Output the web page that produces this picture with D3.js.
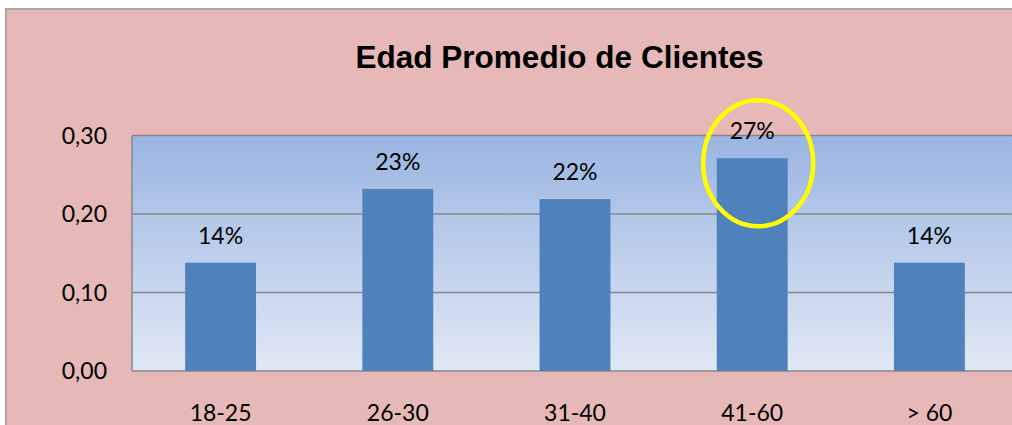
<!DOCTYPE html>
<html><head><meta charset="utf-8">
<script src="https://cdn.jsdelivr.net/npm/d3@7"></script>
<style>html,body{margin:0;padding:0;background:#fff;overflow:hidden}svg{display:block}</style>
</head><body>
<script>
const categories = ["18-25", "26-30", "31-40", "41-60", "> 60"];
const values = [0.138, 0.232, 0.219, 0.271, 0.138];
const valueLabels = ["14%", "23%", "22%", "27%", "14%"];
const yTicks = [0, 0.1, 0.2, 0.3];
const title = "Edad Promedio de Clientes";
const highlighted = "41-60";

const W = 1012, H = 425;
const svg = d3.select("body").append("svg").attr("width", W).attr("height", H);
const defs = svg.append("defs");
const grad = defs.append("linearGradient").attr("id","pg").attr("x1",0).attr("y1",0).attr("x2",0).attr("y2",1);
grad.append("stop").attr("offset","0%").attr("stop-color","#9AB5E2");
grad.append("stop").attr("offset","100%").attr("stop-color","#E1E8F5");

// chart background
svg.append("rect").attr("x",6).attr("y",9).attr("width",W-6).attr("height",H-9).attr("fill","#E6B8B7");
svg.append("path").attr("d",`M6,${H}V9H${W}`).attr("fill","none").attr("stroke","#B3A3A3").attr("stroke-width",2);

const x = d3.scaleBand().domain(categories).range([132, 1018]).paddingInner(0.6).paddingOuter(0.3);
const y = d3.scaleLinear().domain([0, 0.3]).range([371, 135.5]);

// plot area
svg.append("rect").attr("x",132).attr("y",y(0.3)).attr("width",W-132).attr("height",y(0)-y(0.3))
  .attr("fill","url(#pg)");

// gridlines
svg.selectAll("line.grid").data(yTicks).enter().append("line").attr("class","grid")
  .attr("x1",132).attr("x2",W).attr("y1",d => y(d)).attr("y2",d => y(d))
  .attr("stroke","#878787").attr("stroke-width",1.6);

// plot border (left)
svg.append("line").attr("x1",132).attr("x2",132).attr("y1",y(0.3)).attr("y2",y(0))
  .attr("stroke","#8C8C8C").attr("stroke-width",1.6);

// y labels
svg.selectAll("text.yl").data(yTicks).enter().append("text").attr("class","yl")
  .attr("x",107).attr("y",d => y(d)).attr("dy","0.36em").attr("text-anchor","end")
  .attr("font-family","Lato, 'Open Sans', sans-serif").attr("font-size",23).attr("fill","#000")
  .text(d => d3.format(".2f")(d).replace(".", ","));

// bars
svg.selectAll("rect.bar").data(categories).enter().append("rect").attr("class","bar")
  .attr("x", d => x(d)).attr("width", x.bandwidth())
  .attr("y", (d,i) => y(values[i])).attr("height", (d,i) => y(0) - y(values[i]))
  .attr("fill","#4F81BD");

// value labels
svg.selectAll("text.vl").data(categories).enter().append("text").attr("class","vl")
  .attr("x", d => x(d) + x.bandwidth()/2).attr("y", (d,i) => y(values[i]) - 19)
  .attr("text-anchor","middle").attr("font-family","Lato, 'Open Sans', sans-serif").attr("font-size",23)
  .attr("fill","#000").text((d,i) => valueLabels[i]);

// x labels
svg.selectAll("text.xl").data(categories).enter().append("text").attr("class","xl")
  .attr("x", d => x(d) + x.bandwidth()/2).attr("y", 421)
  .attr("text-anchor","middle").attr("font-family","Lato, 'Open Sans', sans-serif").attr("font-size",23)
  .attr("fill","#000").text(d => d);

// highlight ellipse
const hi = categories.indexOf(highlighted);
svg.append("ellipse").attr("cx", x(highlighted) + x.bandwidth()/2 + 6).attr("cy", y(values[hi]) + 5)
  .attr("rx",55).attr("ry",63).attr("fill","none").attr("stroke","#FFFF00").attr("stroke-width",4.5);

// title
svg.append("text").attr("x",559.5).attr("y",68).attr("text-anchor","middle")
  .attr("font-family","'Liberation Sans', Arial, sans-serif").attr("font-weight","bold").attr("font-size",31.5)
  .attr("fill","#000").text(title);
</script>
</body></html>
